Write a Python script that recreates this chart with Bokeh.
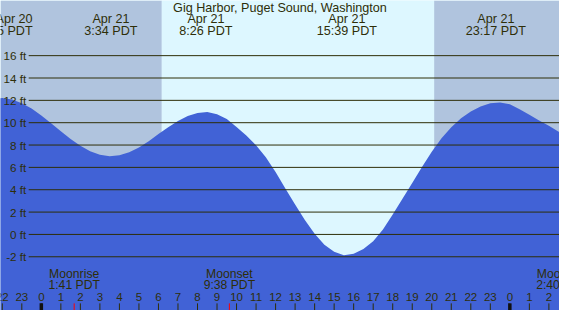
from bokeh.plotting import figure
from bokeh.models import Range1d, ColumnDataSource
from bokeh.embed import file_html
from bokeh.resources import INLINE
from bokeh.core.properties import value

# ---------------- data ----------------
title_text = "Gig Harbor, Puget Sound, Washington"

# tide height (ft) every half hour; hours counted from Apr 21 00:00 PDT
tide_hours = [h / 2 for h in range(-5, 55)]
tide_ft = [
    12.18, 12.20, 12.07, 11.75, 11.26, 10.65, 9.95, 9.23, 8.54, 7.93,
    7.45, 7.13, 7.00, 7.08, 7.35, 7.79, 8.35, 8.98, 9.60, 10.16,
    10.60, 10.87, 10.95, 10.76, 10.32, 9.62, 8.85, 7.98, 6.90, 5.58,
    4.12, 2.68, 1.30, 0.05, -0.92, -1.55, -1.87, -1.72, -1.30, -0.62,
    0.43, 1.78, 3.20, 4.60, 6.03, 7.40, 8.60, 9.60, 10.40, 11.00,
    11.45, 11.75, 11.80, 11.65, 11.20, 10.72, 10.20, 9.72, 9.20, 8.70,
]

extreme_hours = [-2.083, 3.567, 8.433, 15.650, 23.283]
extreme_dates = ["Apr 20", "Apr 21", "Apr 21", "Apr 21", "Apr 21"]
extreme_times = ["21:55 PDT", "3:34 PDT", "8:26 PDT", "15:39 PDT", "23:17 PDT"]

sunrise_hour = 6.17   # 6:10
sunset_hour = 20.12   # 20:07

moon_hours = [1.683, 9.633, 26.667]
moon_events = ["Moonrise", "Moonset", "Moonrise"]
moon_times = ["1:41 PDT", "9:38 PDT", "2:40 PDT"]

ft_ticks = [-2, 0, 2, 4, 6, 8, 10, 12, 14, 16]
ft_labels = ["-2 ft", "0 ft", "2 ft", "4 ft", "6 ft", "8 ft", "10 ft", "12 ft", "14 ft", "16 ft"]

hour_ticks = list(range(-2, 27))
hour_labels = [str(h % 24) for h in hour_ticks]
midnight_hours = [0, 24]

# ---------------- layout (reference pixel geometry) ----------------
REF_W, REF_H = 575, 326
W, H = 559, 310
SX, SY = W / REF_W, H / REF_H
HOUR0_PX, PX_PER_HOUR = 42.0, 20.08
FT0_PX, PX_PER_FT = 246.0, 11.75


def hx(px):
    return (px - HOUR0_PX) / PX_PER_HOUR


def fy(py):
    return (FT0_PX - py) / PX_PER_FT


X0, X1 = hx(0), hx(REF_W)
Y0, Y1 = fy(REF_H), fy(0)

NIGHT = "#B0C4DE"
DAY = "#DDF7FF"
WATER = "#4162D6"
INK = "#2E2E08"
FONT = value("Liberation Sans")

p = figure(width=W, height=H, x_range=Range1d(X0, X1), y_range=Range1d(Y0, Y1),
           output_backend="svg", toolbar_location=None, min_border=0,
           x_axis_type=None, y_axis_type=None, outline_line_color=None,
           background_fill_color=DAY, border_fill_color="white")
p.xgrid.visible = False
p.ygrid.visible = False

# day / night background
p.quad(left=[X0, sunset_hour], right=[sunrise_hour, X1], bottom=Y0, top=Y1,
       fill_color=NIGHT, line_color=None)
p.quad(left=[sunrise_hour], right=[sunset_hour], bottom=Y0, top=Y1,
       fill_color=DAY, line_color=None)

# tide area
p.varea(x=tide_hours, y1=[Y0] * len(tide_hours), y2=tide_ft, fill_color=WATER)

# horizontal grid lines + labels
grid_start = hx(29)
p.segment(x0=[grid_start] * len(ft_ticks), x1=[X1] * len(ft_ticks),
          y0=ft_ticks, y1=ft_ticks, line_color=INK, line_width=1)
p.text(x=[hx(26.5)] * len(ft_ticks), y=ft_ticks, text=ft_labels,
       text_align="right", text_baseline="middle", text_color=INK,
       text_font=FONT, text_font_size="11.7px")

# title
p.text(x=[(X0 + X1) / 2], y=[fy(7.5)], text=[title_text], text_align="center",
       text_baseline="middle", text_color=INK, text_font=FONT, text_font_size="12.6px")

# tide extreme labels (first one pushed in from the left edge)
aligns, offs = [], []
for h in extreme_hours:
    px = HOUR0_PX + h * PX_PER_HOUR
    if px < 20:
        aligns.append("right")
        offs.append((33 - px) * SX)
    else:
        aligns.append("center")
        offs.append(0)
ext = ColumnDataSource(dict(x=extreme_hours, d=extreme_dates, t=extreme_times,
                            a=aligns, o=offs))
p.text(x="x", y=fy(19.5), text="d", source=ext, text_align="a", x_offset="o",
       text_baseline="middle", text_color=INK, text_font=FONT, text_font_size="12.6px")
p.text(x="x", y=fy(31.8), text="t", source=ext, text_align="a", x_offset="o",
       text_baseline="middle", text_color=INK, text_font=FONT, text_font_size="12.6px")

# moon labels
p.text(x=moon_hours, y=[fy(287.3)] * 3, text=moon_events, text_align="center",
       text_baseline="middle", text_color=INK, text_font=FONT, text_font_size="12.2px")
p.text(x=moon_hours, y=[fy(299.3)] * 3, text=moon_times, text_align="center",
       text_baseline="middle", text_color=INK, text_font=FONT, text_font_size="12.2px")
p.segment(x0=moon_hours[:2], x1=moon_hours[:2], y0=fy(318.5), y1=Y0,
          line_color="#FF0000", line_width=1)

# hour ticks and labels
p.text(x=hour_ticks, y=[fy(312)] * len(hour_ticks), text=hour_labels,
       text_align="center", text_baseline="middle", text_color=INK,
       text_font=FONT, text_font_size="11.5px")
p.segment(x0=hour_ticks, x1=hour_ticks, y0=fy(318.5), y1=Y0,
          line_color=INK, line_width=1)
p.segment(x0=midnight_hours, x1=midnight_hours, y0=fy(318.5), y1=Y0,
          line_color="#111111", line_width=3.5)

open("out.html", "w").write(file_html(p, INLINE))
